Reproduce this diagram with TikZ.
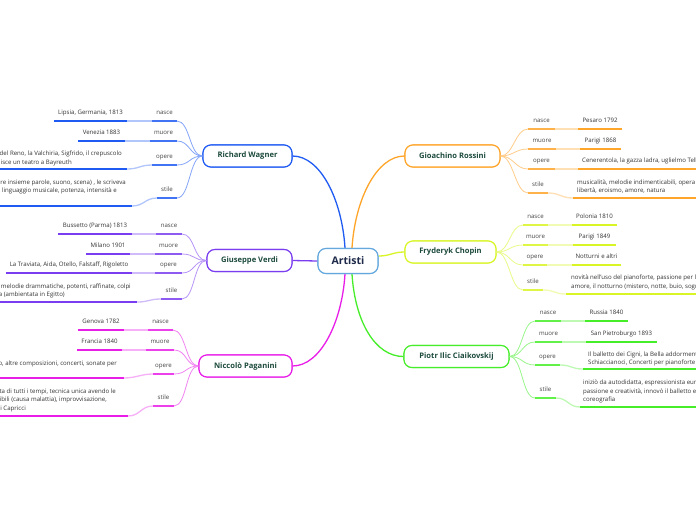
\documentclass[tikz,border=0pt]{standalone}
\usepackage{fontspec}
\setmainfont{Open Sans}
\usetikzlibrary{calc}
\definecolor{cwag}{HTML}{1F5BF2}
\definecolor{cver}{HTML}{7A3EF0}
\definecolor{cpag}{HTML}{E81EE8}
\definecolor{cros}{HTML}{FFA52A}
\definecolor{ccho}{HTML}{D9F526}
\definecolor{ccia}{HTML}{46EE2A}
\definecolor{cart}{HTML}{64A8DE}
\definecolor{topictext}{HTML}{1C4A3C}
\definecolor{arttext}{HTML}{1E2A4A}
\definecolor{lbltext}{HTML}{444444}
\definecolor{valtext}{HTML}{333333}
\colorlet{cM}{cwag}
\newcommand\subL[9]{%
 \coordinate (#2a) at (#4,#6); \coordinate (#2b) at (#5,#6);
 \coordinate (#2c) at (#7,#9); \coordinate (#2d) at (#8,#9);
 \draw[fan] (#1) .. controls +(-13,0) and +(13,0) .. (#2b);
 \draw[link] (#2a) .. controls +(-12,0) and +(12,0) .. (#2d);
 \draw[subul] (#2a) -- (#2b);
 \draw[valul] (#2c) -- (#2d);
 \node[lbl, anchor=base] (#2l) at ($(#2a)!0.5!(#2b)+(0,-6.3)$) {#3};
}
\newcommand\subR[9]{%
 \coordinate (#2a) at (#4,#6); \coordinate (#2b) at (#5,#6);
 \coordinate (#2c) at (#7,#9); \coordinate (#2d) at (#8,#9);
 \draw[fan] (#1) .. controls +(13,0) and +(-13,0) .. (#2a);
 \draw[link] (#2b) .. controls +(12,0) and +(-12,0) .. (#2c);
 \draw[subul] (#2a) -- (#2b);
 \draw[valul] (#2c) -- (#2d);
 \node[lbl, anchor=base] (#2l) at ($(#2a)!0.5!(#2b)+(0,-6.3)$) {#3};
}
\begin{document}
\begin{tikzpicture}[x=1pt,y=-1pt,
  topic/.style={draw=#1, line width=1.1pt, rounded corners=8pt, fill=white,
    minimum height=22pt, inner sep=0pt, font=\fontsize{7.6}{9}\selectfont\bfseries, text=topictext},
  artbox/.style={draw=cart, line width=1.1pt, rounded corners=8pt, fill=white, minimum width=60pt,
    minimum height=25pt, inner sep=0pt, font=\fontsize{10.5}{13}\selectfont\bfseries, text=arttext},
  lbl/.style={font=\fontsize{6.1}{8}\selectfont, text=lbltext, inner sep=0pt},
  val/.style={font=\fontsize{6.1}{8}\selectfont, text=valtext, inner sep=0pt},
  fan/.style={draw=cM!55!white, line width=0.8pt},
  link/.style={draw=cM!35!white, line width=1.3pt},
  subul/.style={draw=cM!85!white, line width=1.8pt},
  valul/.style={draw=cM, line width=1.8pt},
  mainc/.style={draw=#1, line width=1.3pt}]
\useasboundingbox (0,0) rectangle (696,520);
\clip (0,0) rectangle (696,520);
\fill[white] (0,0) rectangle (696,520);

% topic nodes (placed first to be named)
\node[artbox] (art) at (348,261) {Artisti};
\node[topic=cwag, minimum width=89pt] (wag) at (247.5,156) {Richard Wagner};
\node[topic=cver, minimum width=85pt] (ver) at (249.5,260.5) {Giuseppe Verdi};
\node[topic=cpag, minimum width=93pt] (pag) at (245.5,366) {Niccolò Paganini};
\node[topic=cros, minimum width=95pt] (ros) at (452.5,156) {Gioachino Rossini};
\node[topic=ccho, minimum width=91pt] (cho) at (450.5,252) {Fryderyk Chopin};
\node[topic=ccia, minimum width=105pt] (cia) at (456.5,356.5) {Piotr Ilic Ciaikovskij};

% main connectors
\draw[mainc=cwag] ([xshift=-3pt]art.north) .. controls +(-3,-48) and +(28,0) .. (wag.east);
\draw[mainc=cros] ([xshift=4pt]art.north) .. controls +(3,-48) and +(-28,0) .. (ros.west);
\draw[mainc=cpag] ([xshift=-3pt]art.south) .. controls +(-3,48) and +(28,0) .. (pag.east);
\draw[mainc=ccia] ([xshift=4pt]art.south) .. controls +(3,48) and +(-28,0) .. (cia.west);
\draw[mainc=ccho] ([yshift=5pt]art.east) .. controls +(12,0) and +(-12,0) .. (cho.west);
\draw[mainc=cver] (art.west) -- (ver.east);

% redraw boxes on top of the connector ends
\node[artbox] at (art) {Artisti};
\node[topic=cwag, minimum width=89pt] at (wag) {Richard Wagner};
\node[topic=cver, minimum width=85pt] at (ver) {Giuseppe Verdi};
\node[topic=cpag, minimum width=93pt] at (pag) {Niccolò Paganini};
\node[topic=cros, minimum width=95pt] at (ros) {Gioachino Rossini};
\node[topic=ccho, minimum width=91pt] at (cho) {Fryderyk Chopin};
\node[topic=ccia, minimum width=105pt] at (cia) {Piotr Ilic Ciaikovskij};

% Wagner
\begin{scope}
\colorlet{cM}{cwag}
\subL{wag.west}{w1}{nasce}{152}{177}{121}{54}{127}{121}
\subL{wag.west}{w2}{muore}{150}{177}{141}{78}{125}{141}
\subL{wag.west}{w3}{opere}{152}{177}{165}{0}{127}{169}
\subL{wag.west}{w4}{stile}{157}{177}{198}{0}{132}{206}
\node[val, anchor=base] (w1v) at ($(w1c)!0.5!(w1d)+(0,-6.5)$) {Lipsia, Germania, 1813};
\node[val, anchor=base] (w2v) at ($(w2c)!0.5!(w2d)+(0,-6.5)$) {Venezia 1883};
\node[val, anchor=base east] (w3v1) at (122,155.5) {del Reno, la Valchiria, Sigfrido, il crepuscolo};
\node[val, anchor=base east] (w3v2) at (72,164.5) {isce un teatro a Bayreuth};
\node[val, anchor=base east] (w4v1) at (126,184) {are insieme parole, suono, scena) , le scriveva};
\node[val, anchor=base east] (w4v2) at (117,192) {l linguaggio musicale, potenza, intensità e};
\end{scope}

% Verdi
\begin{scope}
\colorlet{cM}{cver}
\subL{ver.west}{v1}{nasce}{156}{182}{234}{58}{132}{234}
\subL{ver.west}{v2}{muore}{155}{182}{254}{86}{130}{254}
\subL{ver.west}{v3}{opere}{155}{182}{273}{6}{132}{273}
\subL{ver.west}{v4}{stile}{161}{182}{299}{0}{137}{302}
\node[val, anchor=base] (v1v) at ($(v1c)!0.5!(v1d)+(0,-6.5)$) {Bussetto (Parma) 1813};
\node[val, anchor=base] (v2v) at ($(v2c)!0.5!(v2d)+(0,-6.5)$) {Milano 1901};
\node[val, anchor=base] (v3v) at ($(v3c)!0.5!(v3d)+(0,-6.5)$) {La Traviata, Aida, Otello, Falstaff, Rigoletto};
\node[val, anchor=base east] (v4v1) at (131,288) {i, melodie drammatiche, potenti, raffinate, colpi};
\node[val, anchor=base east] (v4v2) at (65,296) {a (ambientata in Egitto)};
\end{scope}

% Paganini
\begin{scope}
\colorlet{cM}{cpag}
\subL{pag.west}{p1}{nasce}{148}{173}{330}{78}{124}{330}
\subL{pag.west}{p2}{muore}{146}{174}{350}{77}{122}{350}
\subL{pag.west}{p3}{opere}{153}{174}{374}{0}{124}{378}
\subL{pag.west}{p4}{stile}{153}{174}{406}{0}{128}{416}
\node[val, anchor=base] (p1v) at ($(p1c)!0.5!(p1d)+(0,-6.5)$) {Genova 1782};
\node[val, anchor=base] (p2v) at ($(p2c)!0.5!(p2d)+(0,-6.5)$) {Francia 1840};
\node[val, anchor=base east] (p3v1) at (117,365) {o, altre composizioni, concerti, sonate per};
\node[val, anchor=base east] (p4v1) at (116,393) {sta di tutti i tempi, tecnica unica avendo le};
\node[val, anchor=base east] (p4v2) at (107,401) {sibili (causa malattia), improvvisazione,};
\node[val, anchor=base east] (p4v3) at (26,410) {i Capricci};
\end{scope}

% Rossini
\begin{scope}
\colorlet{cM}{cros}
\subR{ros.east}{r1}{nasce}{528}{555}{129}{578}{622}{129}
\subR{ros.east}{r2}{muore}{528}{556}{149}{580}{621}{149}
\subR{ros.east}{r3}{opere}{528}{555}{169}{578}{700}{169}
\subR{ros.east}{r4}{stile}{528}{548}{193}{573}{700}{198}
\node[val, anchor=base] (r1v) at ($(r1c)!0.5!(r1d)+(0,-6.5)$) {Pesaro 1792};
\node[val, anchor=base] (r2v) at ($(r2c)!0.5!(r2d)+(0,-6.5)$) {Parigi 1868};
\node[val, anchor=base west] (r3v) at (582,162.5) {Cenerentola, la gazza ladra, uglielmo Tell};
\node[val, anchor=base west] (r4v1) at (577,184) {musicalità, melodie indimenticabili, opera b};
\node[val, anchor=base west] (r4v2) at (577,192) {libertà, eroismo, amore, natura};
\end{scope}

% Chopin
\begin{scope}
\colorlet{cM}{ccho}
\subR{cho.east}{c1}{nasce}{523}{548}{225}{572}{617}{225}
\subR{cho.east}{c2}{muore}{523}{548}{245}{573}{616}{245}
\subR{cho.east}{c3}{opere}{523}{547}{265}{572}{621}{265}
\subR{cho.east}{c4}{stile}{523}{543}{290}{566}{700}{294}
\node[val, anchor=base] (c1v) at ($(c1c)!0.5!(c1d)+(0,-6.5)$) {Polonia 1810};
\node[val, anchor=base] (c2v) at ($(c2c)!0.5!(c2d)+(0,-6.5)$) {Parigi 1849};
\node[val, anchor=base] (c3v) at ($(c3c)!0.5!(c3d)+(0,-6.5)$) {Notturni e altri};
\node[val, anchor=base west] (c4v1) at (571,279) {novità nell'uso del pianoforte, passione per la};
\node[val, anchor=base west] (c4v2) at (571,288) {amore, il notturno (mistero, notte, buio, sogni};
\end{scope}

% Ciaikovskij
\begin{scope}
\colorlet{cM}{ccia}
\subR{cia.east}{k1}{nasce}{535}{561}{321}{585}{628}{321}
\subR{cia.east}{k2}{muore}{535}{562}{342}{586}{657}{342}
\subR{cia.east}{k3}{opere}{535}{560}{365}{583}{700}{369}
\subR{cia.east}{k4}{stile}{535}{556}{398}{580}{700}{407}
\node[val, anchor=base] (k1v) at ($(k1c)!0.5!(k1d)+(0,-6.5)$) {Russia 1840};
\node[val, anchor=base] (k2v) at ($(k2c)!0.5!(k2d)+(0,-6.5)$) {San Pietroburgo 1893};
\node[val, anchor=base west] (k3v1) at (588,356) {Il balletto dei Cigni, la Bella addorment};
\node[val, anchor=base west] (k3v2) at (588,364) {Schiaccianoci, Concerti per pianoforte};
\node[val, anchor=base west] (k4v1) at (583,384) {iniziò da autodidatta, espressionista eun};
\node[val, anchor=base west] (k4v2) at (583,393) {passione e creatività, innovò il balletto e};
\node[val, anchor=base west] (k4v3) at (583,401) {coreografia};
\end{scope}
\end{tikzpicture}
\end{document}
